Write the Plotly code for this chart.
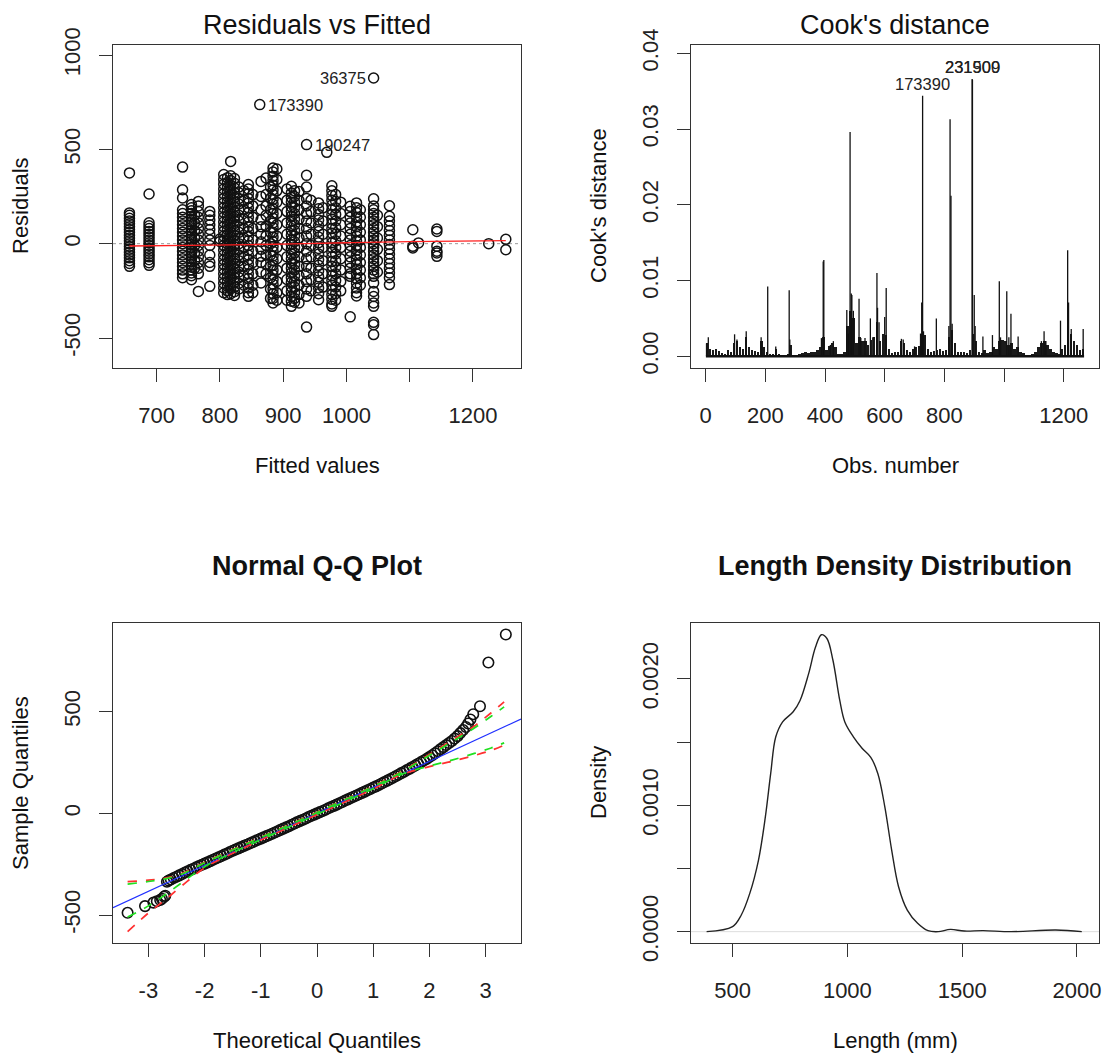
import plotly.graph_objects as go

# ---------------- DATA ----------------
# Panel 1: Residuals vs Fitted (columns of points: fitted value -> residuals)
res_fitted = [657, 688, 741, 755, 760, 766, 784, 800, 806, 812, 817, 823, 830, 838, 845, 852,
              863, 865, 873, 880, 884, 890, 906, 913, 918, 925, 937, 944, 956, 963, 969, 977,
              983, 991, 1006, 1016, 1022, 1043, 1049, 1068, 1105, 1114, 1143, 1225, 1252]
res_values = [
    [375, 163, 150, 135, 120, 105, 90, 75, 60, 45, 30, 15, 0, -15, -30, -45, -60, -75, -90, -105, -120],
    [263, 111, 95, 80, 65, 50, 35, 20, 5, -10, -25, -40, -55, -70, -85, -101, -115],
    [406, 286, 242, 180, 160, 140, 120, 100, 80, 60, 40, 20, 0, -20, -40, -60, -80, -100, -120, -140, -160, -180],
    [207, 190, 175, 160, 145, 130, 115, 100, 85, 70, 55, 40, 25, 10, -5, -20, -35, -50, -65, -80, -95, -110, -125, -140, -155, -170, -191],
    [150, 110, 70, 30, -10, -50, -90, -130],
    [224, 200, 170, 140, 110, 80, 50, 20, -10, -40, -70, -100, -130, -160, -253],
    [171, 150, 125, 100, 75, 50, 20, -10, -60, -100, -120, -226],
    [12, 25],
    [366, 340, 315, 290, 265, 240, 215, 190, 165, 140, 115, 90, 65, 40, 15, -10, -35, -60, -85, -110, -135, -160, -185, -210, -235, -260],
    [350, 325, 300, 275, 250, 225, 200, 175, 150, 125, 100, 75, 50, 25, 0, -25, -50, -75, -100, -125, -150, -175, -200, -225, -250, -270],
    [436, 360, 335, 310, 285, 260, 235, 210, 185, 160, 135, 110, 85, 60, 35, 10, -15, -40, -65, -90, -115, -140, -165, -190, -215, -240, -265],
    [345, 320, 295, 270, 245, 220, 195, 170, 145, 120, 95, 70, 45, 20, -5, -30, -55, -80, -105, -130, -155, -180, -205, -230, -255, -275],
    [300, 270, 240, 210, 180, 150, 120, 90, 60, 30, 0, -30, -60, -90, -120, -150, -180, -210, -240],
    [280, 230, 180, 130, 80, 30, -20, -70, -120, -170, -220],
    [313, 290, 265, 240, 215, 190, 165, 140, 115, 90, 65, 40, 15, -10, -35, -60, -85, -110, -135, -160, -185, -210, -235, -260, -279],
    [260, 200, 140, 80, 20, -40, -100, -160, -220, -260],
    [737],
    [330, 250, 180, 127, 90, 50, 10, -30, -67, -100, -150, -208],
    [348, 260, 200, 150, 92, 40, -10, -60, -110, -160],
    [300, 240, 180, 120, 60, 0, -60, -120, -180, -240, -290],
    [401, 380, 357, 335, 310, 285, 260, 235, 210, 185, 160, 135, 110, 85, 60, 35, 10, -15, -40, -65, -90, -115, -140, -165, -190, -215, -240, -265, -290, -314],
    [396, 340, 280, 220, 160, 100, 40, -20, -80, -140, -200, -260, -300],
    [290, 230, 170, 110, 50, -10, -70, -130, -190, -250, -300],
    [304, 269, 245, 220, 195, 170, 145, 120, 95, 70, 45, 20, -5, -30, -55, -80, -105, -130, -155, -180, -205, -230, -255, -280, -305, -332],
    [280, 250, 220, 190, 160, 130, 100, 70, 40, 10, -20, -50, -80, -110, -140, -170, -200, -230, -260, -290, -310],
    [277, 230, 180, 130, 80, 30, -20, -70, -120, -170, -220, -270, -314],
    [525, 362, 300, 240, 200, 160, 120, 80, 40, 0, -40, -80, -120, -160, -200, -240, -279, -442],
    [230, 170, 110, 50, -10, -70, -130, -190, -250],
    [216, 185, 155, 125, 95, 65, 35, 5, -25, -55, -85, -115, -145, -175, -205, -235, -265, -297],
    [190, 120, 50, -20, -90, -160, -230],
    [484],
    [307, 280, 255, 230, 205, 180, 155, 130, 105, 80, 55, 30, 5, -20, -45, -70, -95, -120, -145, -170, -195, -220, -245, -270, -295, -320, -332],
    [260, 225, 190, 155, 120, 85, 50, 15, -20, -55, -90, -125, -160, -195, -230, -265, -300],
    [220, 160, 100, 40, -20, -80, -140, -200, -250],
    [198, 170, 140, 110, 80, 50, 20, -10, -40, -70, -100, -130, -160, -173, -388],
    [216, 190, 165, 140, 115, 90, 65, 40, 15, -10, -35, -60, -85, -110, -135, -160, -185, -210, -235, -260, -277],
    [180, 140, 100, 60, 20, -20, -60, -100, -140, -180, -220],
    [878, 238, 200, 180, 160, 140, 120, 100, 80, 60, 40, 20, 0, -20, -40, -60, -80, -100, -120, -140, -160, -173, -208, -253, -280, -314, -332, -417, -430, -482],
    [150, 90, 30, -30, -90, -150],
    [201, 145, 120, 95, 70, 45, 20, -5, -30, -55, -80, -105, -130, -155, -180, -217],
    [74, -14, -23],
    [4],
    [78, 65, -14, -40, -49, -67],
    [0],
    [23, -32],
]
res_smooth_x = [657, 750, 850, 916, 1000, 1100, 1252]
res_smooth_y = [-12, -9, -5, -1, 5, 11, 16]
res_labels = [("36375", 1043, 878, "left"), ("173390", 863, 737, "right"), ("190247", 937, 525, "right")]

# Panel 2: Cook's distance
cook_bin_start = 0
cook_bin_width = 10
cook_bin_vals = [
    0.0018, 0.0010, 0.0008, 0.0009, 0.0007, 0.0004, 0.0003, 0.0008, 0.0006, 0.0018,
    0.0020, 0.0012, 0.0010, 0.0025, 0.0012, 0.0008, 0.0007, 0.0006, 0.0020, 0.0012,
    0.0005, 0.0003, 0.0003, 0.0010, 0.0003, 0.0002, 0.0002, 0.0003, 0.0015, 0.0002,
    0.0002, 0.0003, 0.0004, 0.0006, 0.0004, 0.0005, 0.0006, 0.0008, 0.0012, 0.0025,
    0.0008, 0.0014, 0.0018, 0.0012, 0.0003, 0.0003, 0.0005, 0.0040, 0.0060, 0.0050,
    0.0018, 0.0025, 0.0020, 0.0020, 0.0015, 0.0022, 0.0025, 0.0045, 0.0020, 0.0030,
    0.0028, 0.0010, 0.0004, 0.0005, 0.0006, 0.0020, 0.0018, 0.0008, 0.0006, 0.0010,
    0.0012, 0.0014, 0.0030, 0.0028, 0.0010, 0.0006, 0.0007, 0.0008, 0.0009, 0.0007,
    0.0008, 0.0025, 0.0035, 0.0018, 0.0006, 0.0005, 0.0006, 0.0004, 0.0008, 0.0030,
    0.0020, 0.0005, 0.0004, 0.0008, 0.0004, 0.0005, 0.0012, 0.0010, 0.0020, 0.0022,
    0.0020, 0.0015, 0.0018, 0.0010, 0.0012, 0.0006, 0.0004, 0.0002, 0.0002, 0.0003,
    0.0006, 0.0012, 0.0018, 0.0020, 0.0015, 0.0010, 0.0006, 0.0004, 0.0003, 0.0010,
    0.0015, 0.0040, 0.0030, 0.0020, 0.0015, 0.0008, 0.0010,
]
cook_spike_obs = [3, 9, 97, 105, 136, 186, 190, 208, 235, 280, 282, 388, 394, 396, 418, 428,
                  473, 478, 484, 488, 490, 495, 514, 520, 534, 552, 560, 574, 576, 581, 600, 605,
                  656, 662, 700, 720, 724, 727, 730, 773, 815, 819, 822, 826, 893, 894, 900, 903,
                  929, 961, 984, 988, 1009, 1016, 1023, 1047, 1125, 1134, 1140, 1189, 1213, 1216,
                  1225, 1265]
cook_spike_vals = [0.0017, 0.0025, 0.0029, 0.0022, 0.0033, 0.0025, 0.0020, 0.0092, 0.0013, 0.0087,
                   0.0022, 0.0024, 0.0125, 0.0127, 0.0015, 0.0020, 0.0061, 0.0030, 0.0296, 0.0083,
                   0.0081, 0.0060, 0.0076, 0.0024, 0.0024, 0.0050, 0.0025, 0.0110, 0.0064, 0.0045,
                   0.0052, 0.0090, 0.0023, 0.0022, 0.0013, 0.0030, 0.0071, 0.0344, 0.0033, 0.0050,
                   0.0040, 0.0313, 0.0212, 0.0043, 0.0366, 0.0365, 0.0081, 0.0040, 0.0026, 0.0028,
                   0.0099, 0.0025, 0.0086, 0.0025, 0.0056, 0.0026, 0.0020, 0.0033, 0.0020, 0.0047,
                   0.0140, 0.0071, 0.0036, 0.0036]
cook_labels = [("173390", 727, 0.0344), ("231909", 893, 0.0366), ("231500", 894, 0.0366)]

# Panel 3: Normal Q-Q
qq_theoretical = [-3.37, -3.06, -2.91, -2.85, -2.79, -2.76, -2.72, -2.70, -2.67, -2.64,
                  -2.60, -2.55, -2.50, -2.45, -2.40, -2.35, -2.30, -2.25, -2.20, -2.15, -2.10, -2.05,
                  -2.00, -1.95, -1.90, -1.85, -1.80, -1.75, -1.70, -1.65, -1.60, -1.55, -1.50, -1.45,
                  -1.40, -1.35, -1.30, -1.25, -1.20, -1.15, -1.10, -1.05, -1.00, -0.95, -0.90, -0.85,
                  -0.80, -0.75, -0.70, -0.65, -0.60, -0.55, -0.50, -0.45, -0.40, -0.35, -0.30, -0.25,
                  -0.20, -0.15, -0.10, -0.05, 0.00, 0.05, 0.10, 0.15, 0.20, 0.25, 0.30, 0.35, 0.40,
                  0.45, 0.50, 0.55, 0.60, 0.65, 0.70, 0.75, 0.80, 0.85, 0.90, 0.95, 1.00, 1.05, 1.10,
                  1.15, 1.20, 1.25, 1.30, 1.35, 1.40, 1.45, 1.50, 1.55, 1.60, 1.65, 1.70, 1.75, 1.80,
                  1.85, 1.90, 1.95, 2.00, 2.05, 2.10, 2.15, 2.20, 2.25, 2.30, 2.35, 2.40, 2.45, 2.50,
                  2.55, 2.60, 2.65, 2.69, 2.73, 2.78, 2.90, 3.05, 3.36]
qq_sample = [-489, -456, -439, -432, -426, -420, -410, -405, -336, -330,
             -325, -318, -312, -305, -298, -291, -285, -278, -272, -265, -259, -253,
             -247, -241, -235, -228, -222, -216, -210, -203, -197, -190, -184, -178,
             -172, -166, -160, -154, -148, -142, -136, -130, -124, -118, -112, -106,
             -100, -94, -88, -81, -75, -69, -63, -56, -50, -43, -37, -31,
             -25, -18, -12, -6, 0, 6, 12, 18, 25, 31, 37, 43, 50,
             56, 63, 69, 76, 82, 88, 94, 101, 107, 114, 120, 127, 133, 140,
             147, 154, 161, 168, 175, 183, 190, 198, 205, 213, 220, 228, 236, 244,
             252, 260, 268, 277, 286, 296, 306, 316, 326, 336, 346, 356, 368, 380,
             395, 410, 425, 442, 462, 488, 527, 742, 880]
qqline_x = [-3.63, 3.63]
qqline_y = [-464, 464]
env_t = [-3.37, -3.0, -2.7, -2.4, -2.0, -1.5, -1.0, 0.0, 1.0, 1.5, 2.0, 2.4, 2.8, 3.1, 3.33]
env_red_upper = [-336, -328, -318, -295, -240, -178, -117, 6, 134, 205, 290, 360, 430, 495, 549]
env_red_lower = [-582, -490, -425, -355, -268, -196, -131, -6, 120, 190, 230, 256, 285, 310, 336]
env_green_upper = [-348, -335, -322, -298, -243, -180, -119, 4, 132, 202, 285, 352, 420, 478, 524]
env_green_lower = [-510, -455, -400, -340, -262, -193, -129, -4, 122, 192, 233, 262, 295, 322, 347]

# Panel 4: density
dens_x = [387, 500, 538, 575, 613, 643, 666, 688, 718, 764, 794, 831, 861, 887, 911, 937, 967,
          989, 1027, 1065, 1102, 1133, 1163, 1193, 1223, 1261, 1306, 1351, 1396, 1449, 1509,
          1592, 1712, 1908, 2021]
dens_y = [0.0, 0.00004, 0.000132, 0.000303, 0.000567, 0.00091, 0.00125, 0.00154, 0.00166,
          0.00174, 0.00183, 0.00204, 0.00225, 0.00235, 0.00232, 0.00215, 0.00183, 0.00166,
          0.00154, 0.00145, 0.00138, 0.00125, 0.00099, 0.000646, 0.000356, 0.000171, 0.000066,
          0.000008, 0.0, 0.000018, 0.000005, 0.000008, 0.0, 0.000013, 0.0]

# ---------------- FIGURE ----------------
W, H = 1107, 1055
FONT = "Liberation Sans, Arial, Helvetica, sans-serif"
BOX_L = {1: 113, 2: 691, 3: 113, 4: 691}
BOX_R = {1: 521, 2: 1099, 3: 521, 4: 1099}
BOX_T = {1: 45, 2: 45, 3: 622.7, 4: 622.7}
BOX_B = {1: 368, 2: 368, 3: 943.3, 4: 943.3}

fig = go.Figure()

# Panel 1
px, py = [], []
for fx, vals in zip(res_fitted, res_values):
    for v in vals:
        px.append(fx)
        py.append(v)
fig.add_trace(go.Scatter(x=[631, 1276], y=[0, 0], mode="lines",
                         line=dict(color="#9a9a9a", width=1, dash="dot"), xaxis="x", yaxis="y"))
fig.add_trace(go.Scatter(x=px, y=py, mode="markers",
                         marker=dict(symbol="circle-open", size=10, color="#111",
                                     line=dict(width=1.5, color="#111")), xaxis="x", yaxis="y"))
fig.add_trace(go.Scatter(x=res_smooth_x, y=res_smooth_y, mode="lines", line_shape="spline",
                         line=dict(color="#ff2020", width=1.4), xaxis="x", yaxis="y"))

# Panel 2
bin_x = [cook_bin_start + cook_bin_width * i + cook_bin_width / 2 for i in range(len(cook_bin_vals))]
fig.add_trace(go.Bar(x=bin_x, y=cook_bin_vals, width=cook_bin_width * 0.8,
                     marker=dict(color="#1a1a1a", line=dict(width=0)), xaxis="x2", yaxis="y2"))
sx, sy = [], []
for o, v in zip(cook_spike_obs, cook_spike_vals):
    sx += [o, o, None]
    sy += [0, v, None]
fig.add_trace(go.Scatter(x=sx, y=sy, mode="lines", line=dict(color="#111", width=1.3),
                         xaxis="x2", yaxis="y2"))
fig.add_trace(go.Scatter(x=[1, 1268], y=[0, 0], mode="lines", line=dict(color="#111", width=2.5),
                         xaxis="x2", yaxis="y2"))

# Panel 3
fig.add_trace(go.Scatter(x=qq_theoretical, y=qq_sample, mode="markers",
                         marker=dict(symbol="circle-open", size=10.5, color="#111",
                                     line=dict(width=1.6, color="#111")), xaxis="x3", yaxis="y3"))
fig.add_trace(go.Scatter(x=qqline_x, y=qqline_y, mode="lines", line=dict(color="#2030ff", width=1.2),
                         xaxis="x3", yaxis="y3"))
for ys, col in [(env_red_upper, "#ff3030"), (env_red_lower, "#ff3030"),
                (env_green_upper, "#20e020"), (env_green_lower, "#20e020")]:
    fig.add_trace(go.Scatter(x=env_t, y=ys, mode="lines", line_shape="spline",
                             line=dict(color=col, width=1.7, dash="dash"), xaxis="x3", yaxis="y3"))

# Panel 4
fig.add_trace(go.Scatter(x=[319, 2096], y=[0, 0], mode="lines", line=dict(color="#dddddd", width=1),
                         xaxis="x4", yaxis="y4"))
fig.add_trace(go.Scatter(x=dens_x, y=dens_y, mode="lines", line_shape="spline",
                         line=dict(color="#222", width=1.4), xaxis="x4", yaxis="y4"))


def xdom(k):
    return [BOX_L[k] / W, BOX_R[k] / W]


def ydom(k):
    return [1 - BOX_B[k] / H, 1 - BOX_T[k] / H]


axis_common = dict(showline=True, linecolor="#333", linewidth=1.3, mirror=True, ticks="outside",
                   ticklen=13, tickwidth=1.3, tickcolor="#333", showgrid=False, zeroline=False,
                   automargin=False,
                   tickfont=dict(family=FONT, size=22, color="#222"), fixedrange=True)

layout_axes = {}
x_specs = {
    1: dict(range=[631, 1276], tickvals=[700, 800, 900, 1000, 1100, 1200],
            ticktext=["700", "800", "900", "1000", "", "1200"]),
    2: dict(range=[-49, 1318], tickvals=[0, 200, 400, 600, 800, 1000, 1200],
            ticktext=["0", "200", "400", "600", "800", "", "1200"]),
    3: dict(range=[-3.63, 3.63], tickvals=[-3, -2, -1, 0, 1, 2, 3],
            ticktext=["-3", "-2", "-1", "0", "1", "2", "3"]),
    4: dict(range=[319, 2096], tickvals=[500, 1000, 1500, 2000],
            ticktext=["500", "1000", "1500", "2000"]),
}
y_specs = {
    1: dict(range=[-659, 1053], tickvals=[-500, 0, 500, 1000], ticktext=["-500", "0", "500", "1000"]),
    2: dict(range=[-0.00155, 0.0411], tickvals=[0, 0.01, 0.02, 0.03, 0.04],
            ticktext=["0.00", "0.01", "0.02", "0.03", "0.04"]),
    3: dict(range=[-639, 938], tickvals=[-500, 0, 500], ticktext=["-500", "0", "500"]),
    4: dict(range=[-0.000092, 0.002445], tickvals=[0, 0.0005, 0.001, 0.0015, 0.002],
            ticktext=["0.0000", "", "0.0010", "", "0.0020"]),
}
for k in range(1, 5):
    sfx = "" if k == 1 else str(k)
    layout_axes["xaxis" + sfx] = dict(axis_common, domain=xdom(k), anchor="y" + sfx,
                                      tickmode="array", ticklabelstandoff=14, **x_specs[k])
    layout_axes["yaxis" + sfx] = dict(axis_common, domain=ydom(k), anchor="x" + sfx,
                                      tickmode="array", tickangle=-90, ticklabelstandoff=10,
                                      **y_specs[k])

annotations = []


def paper_text(text, x, y, size, bold=False, angle=0):
    t = "<b>" + text + "</b>" if bold else text
    annotations.append(dict(text=t, x=x / W, y=1 - y / H, xref="paper", yref="paper",
                            xanchor="center", yanchor="middle", showarrow=False, textangle=angle,
                            font=dict(family=FONT, size=size, color="#111")))


# titles
paper_text("Residuals vs Fitted", 317, 25, 27)
paper_text("Cook's distance", 895, 25, 27)
paper_text("Normal Q-Q Plot", 317, 566, 27, bold=True)
paper_text("Length Density Distribution", 895, 566, 27, bold=True)
# axis titles
paper_text("Fitted values", 317, 465, 22)
paper_text("Obs. number", 895, 465, 22)
paper_text("Theoretical Quantiles", 317, 1040, 22)
paper_text("Length (mm)", 895, 1040, 22)
paper_text("Residuals", 20, 206, 22, angle=-90)
paper_text("Cook's distance", 598, 206, 22, angle=-90)
paper_text("Sample Quantiles", 20, 783, 22, angle=-90)
paper_text("Density", 598, 783, 22, angle=-90)

for txt, lx, ly, side in res_labels:
    annotations.append(dict(text=txt, x=lx, y=ly, xref="x", yref="y", showarrow=False,
                            xanchor="right" if side == "left" else "left", yanchor="middle",
                            xshift=-6 if side == "left" else 6,
                            font=dict(family=FONT, size=16.5, color="#222")))
for txt, lx, ly in cook_labels:
    annotations.append(dict(text=txt, x=lx, y=ly, xref="x2", yref="y2", showarrow=False,
                            xanchor="center", yanchor="bottom", yshift=1,
                            font=dict(family=FONT, size=16.5, color="#222")))

fig.update_layout(width=W, height=H, autosize=False, margin=dict(l=0, r=0, t=0, b=0),
                  paper_bgcolor="white", plot_bgcolor="white", showlegend=False,
                  font=dict(family=FONT), bargap=0, annotations=annotations, **layout_axes)

fig.write_html("out.html")
